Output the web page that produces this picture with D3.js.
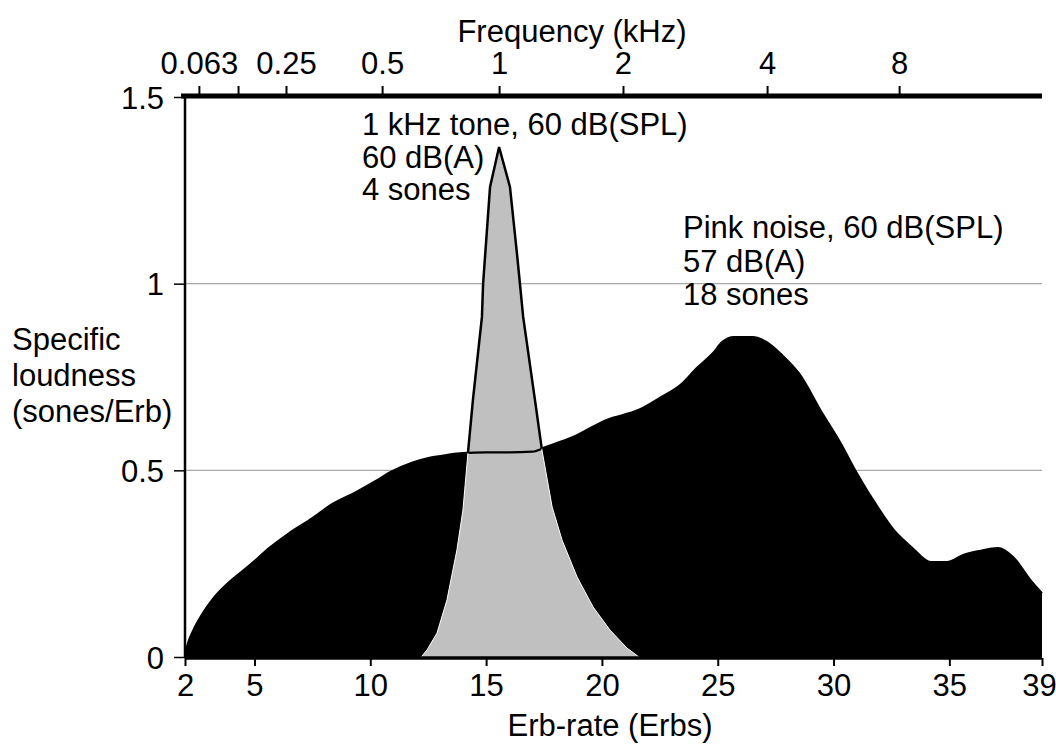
<!DOCTYPE html>
<html>
<head>
<meta charset="utf-8">
<script src="https://cdn.jsdelivr.net/npm/d3@7"></script>
<style>
  body { margin: 0; background: #fff; }
  svg text { font-family: "Liberation Sans", Arial, sans-serif; fill: #000; }
</style>
</head>
<body>
<div id="chart"></div>
<script>
// specific loudness of pink noise (erb-rate, sones/Erb)
var noiseErb = [2.0, 2.1, 2.35, 2.8, 3.2, 3.9, 4.8, 5.7, 6.5, 7.5, 8.3, 9.4, 10.2, 10.9, 11.8, 12.6, 13.3, 14.0, 15.0, 16.0, 17.0, 17.6, 18.75, 20.2, 21.6, 22.5, 23.4, 24.1, 24.8, 25.2, 25.7, 26.5, 27.1, 27.8, 28.5, 29.5, 30.3, 31.0, 31.9, 32.6, 33.4, 34.2, 34.9, 35.6, 36.3, 37.1, 37.75, 38.5, 39.0];
var noiseLoud = [0.0, 0.03, 0.07, 0.12, 0.155, 0.2, 0.246, 0.295, 0.332, 0.372, 0.407, 0.442, 0.47, 0.496, 0.52, 0.534, 0.541, 0.546, 0.548, 0.548, 0.55, 0.563, 0.589, 0.635, 0.662, 0.694, 0.729, 0.774, 0.814, 0.844, 0.857, 0.857, 0.844, 0.807, 0.76, 0.654, 0.573, 0.493, 0.402, 0.34, 0.292, 0.254, 0.254, 0.273, 0.284, 0.292, 0.268, 0.206, 0.171];

// specific loudness of the 1 kHz tone
var toneErb = [12.2, 12.45, 12.88, 13.31, 13.74, 14.0, 14.22, 14.43, 14.82, 14.87, 15.17, 15.56, 16.03, 16.33, 16.46, 16.6, 17.11, 17.41, 17.85, 18.28, 18.93, 19.62, 20.35, 21.08, 21.6];
var toneLoud = [0.0, 0.019, 0.064, 0.153, 0.287, 0.394, 0.549, 0.688, 0.911, 1.0, 1.259, 1.366, 1.259, 1.082, 1.0, 0.911, 0.688, 0.555, 0.402, 0.313, 0.214, 0.134, 0.072, 0.024, 0.0];

// axis ticks
var erbTicks = [2, 5, 10, 15, 20, 25, 30, 35, 39];
var loudTicks = [0, 0.5, 1, 1.5];
var loudTickLabels = ["0", "0.5", "1", "1.5"];
var gridValues = [0.5, 1];
var freqTickErb = [2.6, 4.29, 6.36, 10.51, 15.56, 20.91, 27.13, 32.83];
var freqTickLabels = ["0.063", "", "0.25", "0.5", "1", "2", "4", "8"];

var toneNotes = ["1 kHz tone, 60 dB(SPL)", "60 dB(A)", "4 sones"];
var noiseNotes = ["Pink noise, 60 dB(SPL)", "57 dB(A)", "18 sones"];
var yTitle = ["Specific", "loudness", "(sones/Erb)"];

var noise = noiseErb.map((e, i) => ({ e: e, v: noiseLoud[i] }));
var tone = toneErb.map((e, i) => ({ e: e, v: toneLoud[i] }));

const width = 1056, height = 744;
const fs = 31;

var svg = d3.select("#chart")
  .append("svg")
  .attr("width", width)
  .attr("height", height);

const x = d3.scaleLinear().domain([2, 39]).range([185, 1042]);
const y = d3.scaleLinear().domain([0, 1.5]).range([657, 97]);

// grid lines
svg.append("g")
  .selectAll("line")
  .data(gridValues)
  .enter()
  .append("line")
  .attr("x1", x(2))
  .attr("x2", x(39))
  .attr("y1", d => y(d))
  .attr("y2", d => y(d))
  .attr("stroke", "#a8a8a8")
  .attr("stroke-width", 1.3);

var area = d3.area()
  .curve(d3.curveMonotoneX)
  .x(d => x(d.e))
  .y0(y(0))
  .y1(d => y(d.v));

var line = d3.line()
  .curve(d3.curveMonotoneX)
  .x(d => x(d.e))
  .y(d => y(d.v));

var toneArea = d3.area()
  .x(d => x(d.e))
  .y0(y(0))
  .y1(d => y(d.v));

var toneLine = d3.line()
  .x(d => x(d.e))
  .y(d => y(d.v));

// region above the noise curve, used to clip the black tone outline
var aboveNoise = d3.area()
  .curve(d3.curveMonotoneX)
  .x(d => x(d.e))
  .y0(d => y(d.v))
  .y1(y(1.6));

var defs = svg.append("defs");
defs.append("clipPath").attr("id", "below-noise")
  .append("path").attr("d", area(noise));
defs.append("clipPath").attr("id", "above-noise")
  .append("path").attr("d", aboveNoise(noise));

// pink noise, filled black
svg.append("path")
  .attr("d", area(noise))
  .attr("fill", "#000");

// tone, filled grey
svg.append("path")
  .attr("d", toneArea(tone))
  .attr("fill", "#c0c0c0");

// tone outline: black over white, thin white over the noise
svg.append("path")
  .attr("d", toneLine(tone))
  .attr("fill", "none")
  .attr("stroke", "#000")
  .attr("stroke-width", 2.5)
  .attr("clip-path", "url(#above-noise)");

svg.append("path")
  .attr("d", line(noise))
  .attr("fill", "none")
  .attr("stroke", "#000")
  .attr("stroke-width", 2.2);

svg.append("path")
  .attr("d", toneLine(tone))
  .attr("fill", "none")
  .attr("stroke", "#fff")
  .attr("stroke-width", 1)
  .attr("clip-path", "url(#below-noise)");

// bottom axis (erb-rate)
var xAxis = svg.append("g")
  .attr("transform", "translate(0," + 658 + ")")
  .call(d3.axisBottom(x).tickValues(erbTicks).tickSize(8).tickPadding(8).tickFormat(d3.format("d")));
xAxis.select(".domain").attr("stroke-width", 3.5).attr("d", "M" + x(2) + ",0H" + x(39));
xAxis.selectAll(".tick line").attr("stroke-width", 2);
xAxis.selectAll("text").attr("font-size", fs).attr("font-family", null);
xAxis.selectAll("text").filter(d => d === 39).attr("dx", -3);

// top axis (frequency)
var xTop = svg.append("g")
  .attr("transform", "translate(0," + 96 + ")")
  .call(d3.axisTop(x).tickValues(freqTickErb).tickSize(10).tickPadding(12).tickFormat((d, i) => freqTickLabels[i]));
xTop.select(".domain").attr("stroke-width", 5).attr("d", "M" + (x(2) - 4) + ",0H" + x(39));
xTop.selectAll(".tick line").attr("stroke-width", 2);
xTop.selectAll("text").attr("font-size", fs).attr("font-family", null);

// left axis
var yAxis = svg.append("g")
  .attr("transform", "translate(" + 185 + ",0)")
  .call(d3.axisLeft(y).tickValues(loudTicks).tickSize(11).tickPadding(10).tickFormat((d, i) => loudTickLabels[i]));
yAxis.select(".domain").attr("stroke-width", 2.5).attr("d", "M0," + y(1.5) + "V" + y(0));
yAxis.selectAll(".tick line").attr("stroke-width", 1.5);
yAxis.selectAll("text").attr("font-size", fs).attr("font-family", null).attr("dy", "0.36em");

// axis titles
svg.append("text")
  .attr("x", 572)
  .attr("y", 42)
  .attr("text-anchor", "middle")
  .attr("font-size", fs)
  .text("Frequency (kHz)");

svg.append("text")
  .attr("x", 610)
  .attr("y", 736)
  .attr("text-anchor", "middle")
  .attr("font-size", fs)
  .text("Erb-rate (Erbs)");

svg.append("g")
  .selectAll("text")
  .data(yTitle)
  .enter()
  .append("text")
  .attr("x", 12)
  .attr("y", (d, i) => 350 + i * 36)
  .attr("font-size", fs)
  .text(d => d);

// annotations
svg.append("g")
  .selectAll("text")
  .data(toneNotes)
  .enter()
  .append("text")
  .attr("x", 362)
  .attr("y", (d, i) => 135 + i * 32.5)
  .attr("font-size", fs)
  .text(d => d);

svg.append("g")
  .selectAll("text")
  .data(noiseNotes)
  .enter()
  .append("text")
  .attr("x", 683)
  .attr("y", (d, i) => 238 + i * 33.5)
  .attr("font-size", fs)
  .text(d => d);
</script>
</body>
</html>
